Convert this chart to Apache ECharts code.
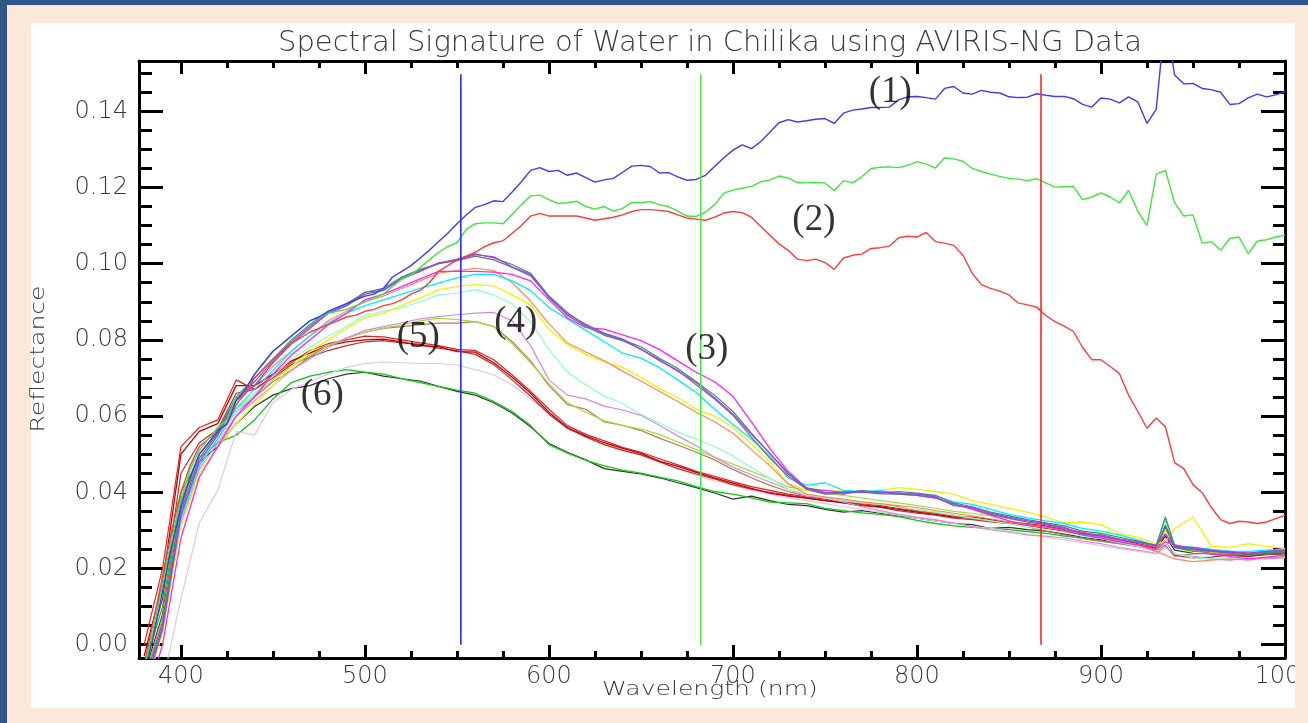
<!DOCTYPE html>
<html>
<head>
<meta charset="utf-8">
<title>Spectral Signature of Water in Chilika</title>
<script src="https://cdn.jsdelivr.net/npm/echarts@6.0.0/dist/echarts.min.js"></script>
<style>
html, body { margin: 0; padding: 0; background: #fce8da; }
#chart { width: 1308px; height: 723px; }
</style>
</head>
<body>
<div id="chart"></div>
<script>
// wavelength grids (nm)
var wlFine = [380,385,390,395,400,405,410,415,420,425,430,435,440,445,450,455,460,465,470,475,
  480,485,490,495,500,505,510,515,520,525,530,535,540,545,550,555,560,565,570,575,
  580,585,590,595,600,605,610,615,620,625,630,635,640,645,650,655,660,665,670,675,
  680,685,690,695,700,705,710,715,720,725,730,735,740,745,750,755,760,765,770,775,
  780,785,790,795,800,805,810,815,820,825,830,835,840,845,850,855,860,865,870,875,
  880,885,890,895,900,905,910,915,920,925,930,935,940,945,950,955,960,965,970,975,
  980,985,990,995,1000];
var wlBand = [380,390,400,410,420,430,440,450,460,470,480,490,500,510,520,530,540,550,560,570,
  580,590,600,610,620,630,640,650,660,670,680,690,700,710,720,730,740,750,760,770,
  780,790,800,810,820,830,840,850,860,870,880,890,900,910,920,930,935,940,950,960,
  970,980,990,1000];

// (1), (2): the three upper spectra, on wlFine
var blueTop = [-0.008,0.002,0.014,0.026,0.036,0.044,0.05,0.053,0.056,0.058,
  0.064,0.067,0.071,0.074,0.077,0.079,0.081,0.083,0.085,0.086,
  0.0875,0.0885,0.0895,0.0905,0.0915,0.092,0.0935,0.0965,0.098,0.0995,
  0.1015,0.1035,0.1058,0.108,0.1105,0.1128,0.1148,0.1155,0.1165,0.1163,
  0.1188,0.1215,0.1245,0.1252,0.1242,0.1245,0.1232,0.1238,0.1226,0.1214,
  0.122,0.1224,0.124,0.1256,0.1258,0.1255,0.1238,0.1239,0.1228,0.1219,
  0.1221,0.1232,0.1255,0.1278,0.1298,0.1312,0.1302,0.132,0.1345,0.137,
  0.1378,0.1372,0.1375,0.1379,0.1381,0.1368,0.1395,0.1403,0.1406,0.141,
  0.141,0.1411,0.143,0.1438,0.1439,0.1436,0.1432,0.146,0.1465,0.1448,
  0.1445,0.1455,0.145,0.1448,0.1438,0.1436,0.1437,0.1446,0.1442,0.1439,
  0.1439,0.1433,0.1418,0.1411,0.1435,0.1432,0.1422,0.1438,0.1425,0.1368,
  0.1405,0.165,0.1495,0.1472,0.1473,0.146,0.1457,0.145,0.1418,0.142,
  0.1435,0.1445,0.1438,0.1443,0.1452];
var greenTop = [-0.006,0.004,0.016,0.028,0.038,0.046,0.051,0.054,0.057,0.059,
  0.065,0.067,0.071,0.074,0.077,0.079,0.081,0.083,0.085,0.086,
  0.087,0.0875,0.088,0.089,0.09,0.091,0.092,0.094,0.096,0.097,
  0.099,0.101,0.103,0.1045,0.1055,0.109,0.1105,0.1107,0.1107,0.1105,
  0.113,0.1155,0.1178,0.118,0.1168,0.1158,0.116,0.1164,0.115,0.1143,
  0.115,0.1138,0.1145,0.1161,0.116,0.1163,0.1155,0.115,0.1138,0.1125,
  0.1124,0.1135,0.1155,0.1185,0.1193,0.1198,0.1203,0.1215,0.122,0.123,
  0.1225,0.1213,0.1212,0.1213,0.1212,0.1192,0.1218,0.1212,0.1228,0.125,
  0.1253,0.1254,0.1252,0.1258,0.1268,0.1262,0.1251,0.1278,0.1275,0.1269,
  0.125,0.1242,0.1235,0.1229,0.1224,0.1222,0.1218,0.1223,0.1212,0.1201,
  0.1202,0.1203,0.1168,0.1175,0.1186,0.1175,0.116,0.1192,0.1138,0.11,
  0.1235,0.1245,0.116,0.1125,0.1128,0.1054,0.1058,0.1035,0.1066,0.107,
  0.1026,0.106,0.1063,0.107,0.1075];
var redTop = [-0.005,0.006,0.018,0.03,0.04,0.047,0.052,0.054,0.056,0.058,
  0.063,0.066,0.07,0.0725,0.075,0.077,0.079,0.0805,0.082,0.083,
  0.084,0.085,0.086,0.0865,0.0875,0.088,0.089,0.0895,0.0905,0.092,
  0.093,0.095,0.098,0.0995,0.101,0.102,0.103,0.1045,0.1055,0.106,
  0.108,0.11,0.1125,0.1132,0.1125,0.1125,0.1125,0.1125,0.112,0.1114,
  0.1118,0.1122,0.1128,0.1137,0.1142,0.1142,0.114,0.1137,0.1128,0.112,
  0.1117,0.1114,0.1122,0.1133,0.1137,0.1134,0.1122,0.1098,0.1075,0.1052,
  0.1035,0.1012,0.1008,0.1012,0.1003,0.0985,0.1015,0.1022,0.1025,0.104,
  0.1042,0.1046,0.1068,0.1072,0.107,0.1082,0.1058,0.1054,0.1048,0.1022,
  0.0975,0.0945,0.0935,0.0928,0.0918,0.0897,0.0892,0.0886,0.0864,0.0848,
  0.0836,0.0822,0.078,0.0748,0.0748,0.073,0.0712,0.0655,0.0612,0.0568,
  0.0595,0.0572,0.0478,0.0462,0.042,0.0399,0.036,0.0328,0.0318,0.0324,
  0.0322,0.0318,0.0322,0.0331,0.034];

// (3)..(6): the lower bundle, on wlBand
var purple = [-0.012,0.004,0.034,0.048,0.055,0.064,0.068,0.074,0.079,0.083,
  0.087,0.089,0.092,0.093,0.096,0.098,0.1002,0.101,0.1024,0.1018,
  0.0992,0.0972,0.091,0.0868,0.0841,0.0818,0.0802,0.0775,0.0748,0.0718,
  0.0688,0.0648,0.0605,0.0552,0.0502,0.0448,0.041,0.0398,0.04,0.0402,
  0.0401,0.0398,0.0395,0.0388,0.0365,0.036,0.0345,0.0335,0.0325,0.0318,
  0.0308,0.029,0.0285,0.0275,0.0268,0.0262,0.029,0.0258,0.0255,0.0248,
  0.0242,0.024,0.0245,0.0248];
var teal = [-0.01,0.006,0.037,0.05,0.056,0.065,0.07,0.075,0.08,0.084,
  0.0875,0.0895,0.0925,0.0935,0.0965,0.0985,0.1,0.1012,0.1026,0.1015,
  0.0998,0.0975,0.0915,0.0872,0.0838,0.0815,0.08,0.0782,0.0752,0.0725,
  0.069,0.0655,0.0612,0.0555,0.0502,0.045,0.0412,0.04,0.0395,0.0405,
  0.0398,0.0402,0.0398,0.0392,0.0372,0.0362,0.0348,0.0338,0.0328,0.032,
  0.0312,0.0298,0.0292,0.0282,0.0272,0.026,0.0335,0.026,0.0252,0.0245,
  0.0245,0.0238,0.0242,0.0245];
var slate = [-0.011,0.005,0.035,0.049,0.0555,0.0645,0.069,0.0745,0.0795,0.0835,
  0.087,0.089,0.0925,0.093,0.0962,0.0982,0.1,0.1008,0.102,0.101,
  0.099,0.0968,0.0912,0.0865,0.0835,0.0812,0.0798,0.0776,0.0745,0.072,
  0.0682,0.0645,0.0602,0.0545,0.049,0.0442,0.0408,0.0395,0.0398,0.04,
  0.0396,0.0395,0.0392,0.0385,0.0368,0.0358,0.0342,0.0332,0.0322,0.0315,
  0.0305,0.0292,0.0288,0.0278,0.027,0.0258,0.031,0.0255,0.025,0.0245,
  0.024,0.0236,0.024,0.0242];
var magenta = [-0.016,0,0.028,0.044,0.052,0.06,0.065,0.071,0.076,0.08,
  0.084,0.087,0.0905,0.092,0.094,0.096,0.098,0.098,0.098,0.0978,
  0.0972,0.0955,0.0905,0.0858,0.0832,0.0828,0.0813,0.0798,0.0775,0.0745,
  0.0715,0.069,0.0652,0.0585,0.0515,0.0455,0.041,0.0405,0.04,0.0402,
  0.04,0.0395,0.0392,0.0385,0.037,0.0355,0.034,0.0325,0.0315,0.031,
  0.03,0.0288,0.028,0.027,0.0262,0.025,0.027,0.0262,0.025,0.0238,
  0.0232,0.0225,0.023,0.0235];
var cyan = [-0.012,0.004,0.033,0.047,0.054,0.062,0.067,0.072,0.077,0.081,
  0.0845,0.087,0.089,0.0905,0.092,0.0935,0.0949,0.0963,0.0972,0.0972,
  0.0955,0.093,0.0885,0.0855,0.0825,0.0795,0.0765,0.0752,0.0727,0.0695,
  0.0662,0.0618,0.0578,0.054,0.0495,0.0438,0.0418,0.0425,0.0405,0.0402,
  0.0404,0.0398,0.0395,0.039,0.0375,0.0368,0.0355,0.0342,0.0333,0.0325,
  0.0318,0.0305,0.0298,0.0288,0.0275,0.026,0.033,0.026,0.0255,0.025,
  0.0245,0.0245,0.0248,0.025];
var coral = [-0.009,0.007,0.038,0.05,0.056,0.0645,0.068,0.073,0.077,0.081,
  0.085,0.0875,0.09,0.0915,0.0935,0.0955,0.0975,0.0982,0.0988,0.0982,
  0.095,0.0902,0.0842,0.0792,0.0768,0.0745,0.0718,0.0692,0.0665,0.0638,
  0.061,0.0585,0.0555,0.0512,0.047,0.0422,0.0395,0.0388,0.0382,0.0375,
  0.037,0.0365,0.036,0.0352,0.0345,0.0338,0.033,0.0322,0.0315,0.0308,
  0.03,0.029,0.0282,0.0272,0.0262,0.0245,0.0235,0.0225,0.0218,0.0222,
  0.0225,0.0222,0.0228,0.0232];
var yellow = [-0.013,0.003,0.031,0.045,0.052,0.058,0.063,0.068,0.073,0.077,
  0.08,0.083,0.0858,0.087,0.089,0.091,0.0932,0.094,0.0945,0.0942,
  0.0918,0.0892,0.0828,0.0788,0.0762,0.0742,0.0728,0.0702,0.0672,0.0648,
  0.0618,0.06,0.057,0.0528,0.048,0.0422,0.0405,0.0405,0.0402,0.0398,
  0.0405,0.0412,0.0408,0.0402,0.0395,0.0378,0.0368,0.0358,0.0348,0.0335,
  0.032,0.0322,0.0315,0.0292,0.0282,0.0265,0.027,0.0305,0.0335,0.0258,
  0.0256,0.0265,0.0258,0.0252];
var aqua = [-0.011,0.005,0.035,0.048,0.054,0.061,0.066,0.0705,0.075,0.078,
  0.081,0.0835,0.0865,0.0875,0.0885,0.09,0.0918,0.0923,0.0932,0.0918,
  0.0895,0.0848,0.0775,0.0715,0.0682,0.0653,0.0633,0.0605,0.0582,0.0558,
  0.054,0.052,0.0495,0.0465,0.0437,0.0408,0.0395,0.0385,0.0378,0.0372,
  0.0368,0.036,0.0355,0.0348,0.034,0.0332,0.0325,0.0318,0.031,0.0302,
  0.0295,0.0285,0.0278,0.0268,0.0258,0.0245,0.0275,0.024,0.0228,0.0225,
  0.0228,0.0225,0.023,0.0235];
var orchid = [-0.012,0.004,0.032,0.046,0.053,0.06,0.064,0.068,0.072,0.075,
  0.078,0.0805,0.0825,0.0835,0.0845,0.0855,0.0861,0.0866,0.087,0.0872,
  0.085,0.0785,0.0695,0.0655,0.0645,0.0626,0.0616,0.0602,0.0576,0.0548,
  0.0522,0.0492,0.0466,0.0446,0.0427,0.0408,0.039,0.0385,0.0375,0.0362,
  0.0352,0.0342,0.0335,0.0328,0.032,0.031,0.0302,0.0295,0.0288,0.0285,
  0.028,0.0272,0.0265,0.0255,0.0248,0.024,0.0258,0.0238,0.0232,0.0225,
  0.0222,0.0228,0.0225,0.0228];
var yellowGreen = [-0.01,0.006,0.036,0.049,0.055,0.062,0.0655,0.0695,0.073,0.076,
  0.0785,0.0805,0.082,0.083,0.084,0.085,0.0857,0.0853,0.0848,0.0835,
  0.079,0.074,0.0685,0.0635,0.061,0.0588,0.0575,0.0566,0.0552,0.0532,
  0.0512,0.0492,0.0474,0.0455,0.0436,0.0414,0.0405,0.0398,0.0392,0.0385,
  0.0378,0.0372,0.0365,0.0358,0.035,0.0345,0.0338,0.033,0.0322,0.0315,
  0.0305,0.0292,0.0282,0.0272,0.0262,0.025,0.0302,0.026,0.0248,0.0242,
  0.024,0.0238,0.0242,0.0245];
var sienna = [-0.011,0.005,0.034,0.047,0.054,0.061,0.065,0.069,0.072,0.0755,
  0.0785,0.0805,0.082,0.083,0.0835,0.084,0.0844,0.0844,0.0848,0.0835,
  0.0795,0.0745,0.068,0.063,0.0618,0.0585,0.0576,0.0562,0.0542,0.0524,
  0.0505,0.0485,0.046,0.0438,0.0418,0.0402,0.039,0.0385,0.0378,0.0372,
  0.0368,0.0362,0.0352,0.0345,0.034,0.0332,0.0325,0.0318,0.031,0.0298,
  0.0288,0.0278,0.0272,0.0265,0.0258,0.0245,0.0262,0.0232,0.0238,0.024,
  0.0235,0.0238,0.0242,0.0245];
var darkRed = [-0.003,0.016,0.05,0.056,0.058,0.068,0.068,0.071,0.0745,0.0765,
  0.0785,0.0795,0.08,0.0802,0.0795,0.0785,0.0782,0.0769,0.0768,0.074,
  0.0702,0.066,0.061,0.057,0.0548,0.053,0.0515,0.0502,0.0482,0.0468,
  0.0452,0.0438,0.0424,0.041,0.0398,0.039,0.0385,0.0378,0.0372,0.0365,
  0.0362,0.0355,0.0348,0.0342,0.0335,0.0335,0.0328,0.032,0.0315,0.031,
  0.0302,0.0292,0.0282,0.0272,0.0262,0.0252,0.031,0.0258,0.0248,0.0245,
  0.0242,0.0238,0.0242,0.0245];
var brightRed = [0,0.02,0.052,0.057,0.059,0.0695,0.067,0.0705,0.074,0.0772,
  0.079,0.08,0.081,0.0808,0.08,0.0792,0.0785,0.0775,0.0772,0.0748,
  0.0708,0.0665,0.0618,0.0575,0.0552,0.0535,0.0518,0.0505,0.0488,0.0472,
  0.0455,0.0442,0.0428,0.0415,0.0405,0.0395,0.0388,0.0382,0.0372,0.037,
  0.0365,0.0358,0.035,0.0345,0.0338,0.033,0.0325,0.0322,0.0318,0.0312,
  0.0305,0.0295,0.0285,0.0275,0.0265,0.0255,0.029,0.0262,0.025,0.0248,
  0.0244,0.024,0.0245,0.0248];
var brickRed = [-0.005,0.012,0.045,0.053,0.0565,0.066,0.067,0.07,0.0735,0.0755,
  0.0772,0.0785,0.0795,0.0798,0.0792,0.0788,0.0778,0.0772,0.0762,0.0735,
  0.0695,0.0652,0.0605,0.0568,0.0545,0.0525,0.051,0.0498,0.048,0.0462,
  0.0448,0.0435,0.042,0.0408,0.04,0.0392,0.0385,0.0378,0.0375,0.0368,
  0.036,0.0352,0.0345,0.034,0.0332,0.0328,0.0322,0.0318,0.0312,0.0305,
  0.0298,0.0288,0.0278,0.0268,0.0258,0.0248,0.0275,0.0235,0.0228,0.023,
  0.0235,0.0232,0.0238,0.024];
var thistle = [-0.03,-0.01,0.012,0.032,0.0405,0.056,0.055,0.0635,0.067,0.069,
  0.071,0.0728,0.0738,0.0742,0.074,0.0738,0.0738,0.0734,0.0722,0.0708,
  0.0682,0.0645,0.0608,0.0568,0.0545,0.0528,0.0512,0.0498,0.0478,0.0462,
  0.0445,0.043,0.0418,0.0405,0.0395,0.0385,0.0378,0.037,0.0362,0.0355,
  0.0348,0.034,0.0332,0.0325,0.0318,0.031,0.0305,0.0298,0.029,0.0282,
  0.0275,0.0268,0.026,0.0252,0.0245,0.0238,0.0255,0.0232,0.0228,0.0225,
  0.0222,0.0225,0.0228,0.023];
var green6 = [-0.006,0.01,0.04,0.049,0.053,0.055,0.059,0.0645,0.0688,0.0705,
  0.0715,0.0722,0.0715,0.071,0.0698,0.0688,0.0678,0.0668,0.066,0.0638,
  0.0612,0.0575,0.0525,0.0503,0.0484,0.0469,0.0458,0.045,0.044,0.043,
  0.0415,0.0402,0.0395,0.0385,0.0374,0.0372,0.037,0.0358,0.0352,0.0346,
  0.0342,0.0336,0.0326,0.0318,0.0312,0.0308,0.0305,0.0302,0.0297,0.0292,
  0.0285,0.028,0.0272,0.0265,0.0258,0.025,0.0315,0.0255,0.0245,0.0242,
  0.0238,0.0235,0.0238,0.024];
var black6 = [-0.008,0.008,0.038,0.048,0.052,0.058,0.0625,0.0655,0.0672,0.068,
  0.0698,0.071,0.0715,0.0705,0.0698,0.0692,0.0678,0.0665,0.0655,0.0635,
  0.0608,0.0572,0.0528,0.0505,0.0485,0.0462,0.0455,0.0448,0.0438,0.0425,
  0.0412,0.0398,0.0382,0.039,0.0378,0.0368,0.0365,0.0355,0.0348,0.0352,
  0.0345,0.0338,0.0332,0.0325,0.0318,0.0315,0.0305,0.0308,0.0302,0.0298,
  0.029,0.0282,0.0275,0.0268,0.026,0.0252,0.0285,0.0248,0.024,0.0238,
  0.0235,0.0232,0.0236,0.0238];

// band markers and curve labels
var markerWl = [552.1, 682.5, 867.4];
var markerColors = ['#2c2cff', '#45ec45', '#ff2424'];
var markerRange = [0, 0.1497];
var annoText = ['(1)', '(2)', '(3)', '(4)', '(5)', '(6)'];
var annoWl = [785.5, 744.0, 685.8, 582.0, 529.0, 476.8];
var annoRefl = [0.145, 0.1114, 0.0776, 0.0846, 0.0806, 0.0655];

// axis ticks
var xMajor = [400, 500, 600, 700, 800, 900, 1000];
var xMinor = [425, 450, 475, 525, 550, 575, 625, 650, 675, 725, 750, 775, 825, 850, 875, 925, 950, 975];
var yMajor = [0, 0.02, 0.04, 0.06, 0.08, 0.10, 0.12, 0.14];
var yMinor = [0.005, 0.01, 0.015, 0.025, 0.03, 0.035, 0.045, 0.05, 0.055, 0.065, 0.07, 0.075,
  0.085, 0.09, 0.095, 0.105, 0.11, 0.115, 0.125, 0.13, 0.135, 0.145, 0.15];

var peach = '#fce8da';
var frame = '#2f568a';
var textGray = '#3a3a3a';
var tickFont = { fontFamily: 'DejaVu Sans', fontWeight: 300, fontSize: 24, color: textGray };

function pair(xs, ys) {
  return ys.map(function (v, i) { return [xs[i], v]; });
}
function curve(name, xs, ys, color, width) {
  return {
    name: name, type: 'line', data: pair(xs, ys), symbol: 'none',
    lineStyle: { color: color, width: width }, clip: true, silent: true,
    emphasis: { disabled: true }
  };
}
function xAxisDef(pos, ticks, len, showLine, showLabel) {
  return {
    type: 'value', position: pos, min: 377.2, max: 1000,
    axisLine: { show: showLine, onZero: false, lineStyle: { color: '#000', width: 3 } },
    axisTick: { show: true, inside: true, length: len, customValues: ticks, lineStyle: { color: '#000', width: 3 } },
    axisLabel: showLabel ? Object.assign({
      customValues: ticks, margin: 7,
      formatter: function (v) { return String(v); }
    }, tickFont) : { show: false },
    splitLine: { show: false }
  };
}
function yAxisDef(pos, ticks, len, showLine, showLabel) {
  return {
    type: 'value', position: pos, min: -0.0035, max: 0.1532,
    axisLine: { show: showLine, onZero: false, lineStyle: { color: '#000', width: 3 } },
    axisTick: { show: true, inside: true, length: len, customValues: ticks, lineStyle: { color: '#000', width: 3 } },
    axisLabel: showLabel ? Object.assign({
      customValues: ticks, margin: 11,
      formatter: function (v) { return v.toFixed(2); }
    }, tickFont) : { show: false },
    splitLine: { show: false }
  };
}

var series = [
  curve('black6', wlBand, black6, '#333333', 1.2),
  curve('green6', wlBand, green6, '#12c812', 1.3),
  curve('thistle', wlBand, thistle, '#e2c6e6', 1.2),
  curve('brickRed', wlBand, brickRed, '#b83030', 1.2),
  curve('brightRed', wlBand, brightRed, '#e82020', 1.2),
  curve('darkRed', wlBand, darkRed, '#c00000', 1.3),
  curve('sienna', wlBand, sienna, '#b87850', 1.2),
  curve('yellowGreen', wlBand, yellowGreen, '#9be03a', 1.2),
  curve('orchid', wlBand, orchid, '#da8ae2', 1.2),
  curve('aqua', wlBand, aqua, '#8cffd2', 1.2),
  curve('yellow', wlBand, yellow, '#f2f200', 1.3),
  curve('coral', wlBand, coral, '#ff8a58', 1.2),
  curve('cyan', wlBand, cyan, '#00eeff', 1.3),
  curve('magenta', wlBand, magenta, '#ff22ff', 1.3),
  curve('slate', wlBand, slate, '#707082', 1.2),
  curve('teal', wlBand, teal, '#3f8a78', 1.2),
  curve('purple', wlBand, purple, '#a040f0', 1.3),
  curve('redTop', wlFine, redTop, '#ff3c3c', 1.4),
  curve('greenTop', wlFine, greenTop, '#3ee83e', 1.4),
  curve('blueTop', wlFine, blueTop, '#3c3cff', 1.4)
];
markerWl.forEach(function (wl, i) {
  series.push(curve('marker' + i, [wl, wl], markerRange, markerColors[i], 1.6));
});
series.push({
  type: 'scatter', silent: true, symbolSize: 1, z: 5,
  itemStyle: { color: 'rgba(0,0,0,0)' },
  data: annoText.map(function (t, i) { return { name: t, value: [annoWl[i], annoRefl[i]] }; }),
  label: {
    show: true, position: 'inside', formatter: '{b}', color: '#000',
    fontFamily: '"Liberation Serif", "Times New Roman", serif', fontSize: 37
  }
});

var myChart = echarts.init(document.getElementById('chart'), null, { renderer: 'canvas' });

var option = {
  animation: false,
  backgroundColor: peach,
  grid: { left: 139, top: 61, right: 23, bottom: 65, containLabel: false, outerBoundsMode: 'none' },
  xAxis: [
    xAxisDef('bottom', xMajor, 13, true, true),
    xAxisDef('bottom', xMinor, 7, false, false),
    xAxisDef('top', xMajor, 13, true, false),
    xAxisDef('top', xMinor, 7, false, false)
  ],
  yAxis: [
    yAxisDef('left', yMajor, 24, true, true),
    yAxisDef('left', yMinor, 13, false, false),
    yAxisDef('right', yMajor, 24, true, false),
    yAxisDef('right', yMinor, 12, false, false)
  ],
  graphic: [
    { type: 'rect', z: -10, silent: true, shape: { x: 31, y: 23, width: 1264, height: 685 }, style: { fill: '#ffffff' } },
    { type: 'rect', z: 100, silent: true, shape: { x: 1295, y: 5, width: 13, height: 718 }, style: { fill: peach } },
    { type: 'rect', z: 101, silent: true, shape: { x: 0, y: 0, width: 1308, height: 5 }, style: { fill: frame } },
    { type: 'rect', z: 101, silent: true, shape: { x: 0, y: 0, width: 7, height: 723 }, style: { fill: frame } },
    {
      type: 'text', z: 50, silent: true, x: 710, y: 43,
      style: {
        text: 'Spectral Signature of Water in Chilika using AVIRIS-NG Data',
        fontFamily: 'DejaVu Sans', fontWeight: 300, fontSize: 29, fill: textGray,
        align: 'center', verticalAlign: 'middle', textAlign: 'center', textVerticalAlign: 'middle'
      }
    },
    {
      type: 'text', z: 50, silent: true, x: 710, y: 690, scaleX: 1.32,
      style: {
        text: 'Wavelength (nm)',
        fontFamily: 'DejaVu Sans', fontWeight: 300, fontSize: 19, fill: textGray,
        align: 'center', verticalAlign: 'middle', textAlign: 'center', textVerticalAlign: 'middle'
      }
    },
    {
      type: 'text', z: 50, silent: true, x: 39, y: 359, rotation: Math.PI / 2, scaleX: 1.32,
      style: {
        text: 'Reflectance',
        fontFamily: 'DejaVu Sans', fontWeight: 300, fontSize: 19, fill: textGray,
        align: 'center', verticalAlign: 'middle', textAlign: 'center', textVerticalAlign: 'middle'
      }
    }
  ],
  series: series
};

myChart.setOption(option);
</script>
</body>
</html>
